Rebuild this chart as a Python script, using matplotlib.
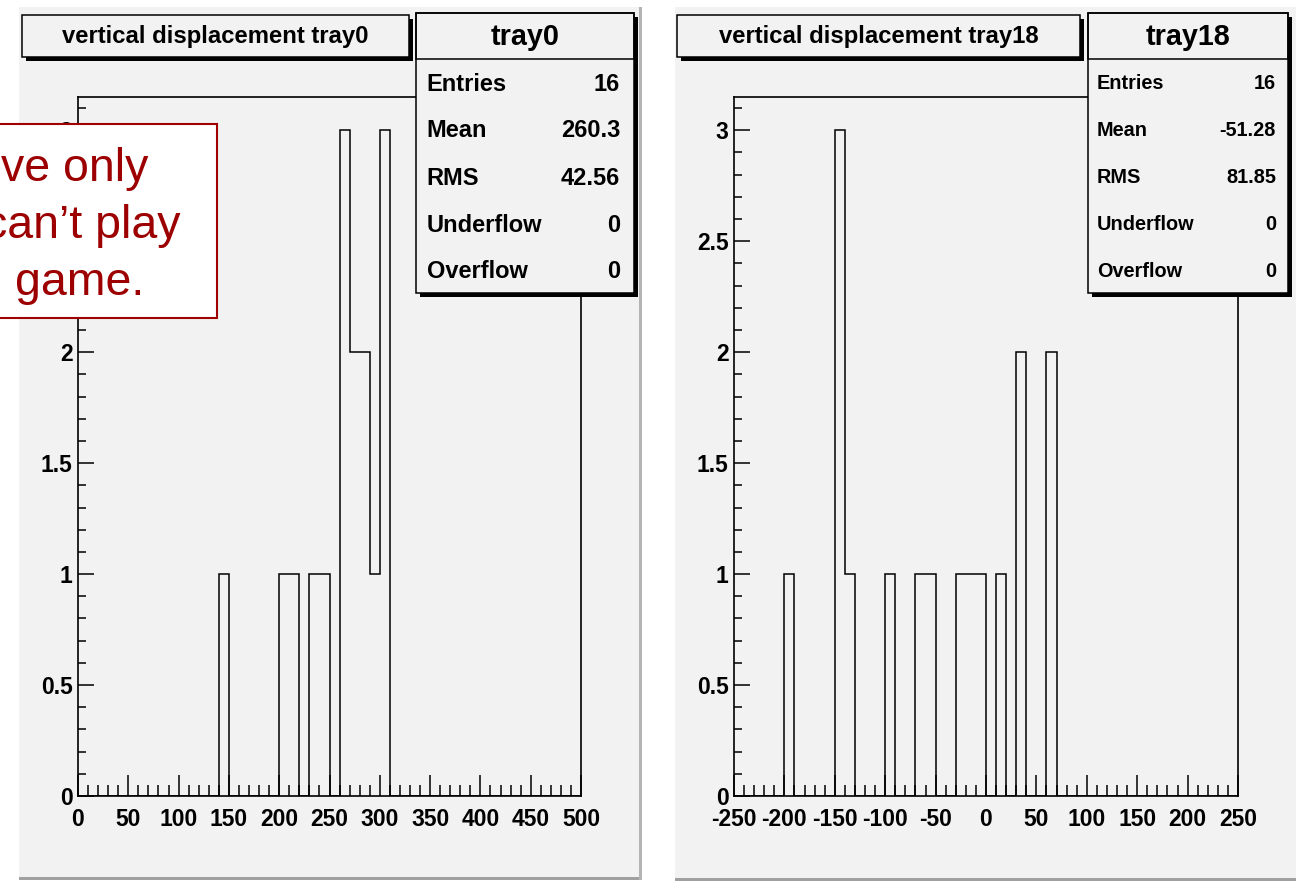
import numpy as np
import matplotlib
matplotlib.use("Agg")
import matplotlib.pyplot as plt
from matplotlib.patches import Rectangle
from matplotlib.transforms import Affine2D
from matplotlib.ticker import MultipleLocator, FuncFormatter

plt.rcParams['font.family'] = ['Liberation Sans', 'DejaVu Sans']
plt.rcParams['axes.unicode_minus'] = False

# --- data (bin low edge, entries) ---
tray0_lo = [140, 200, 210, 230, 240, 260, 270, 280, 290, 300]
tray0_cnt = [1, 1, 1, 1, 1, 3, 2, 2, 1, 3]
tray18_lo = [-200, -150, -140, -100, -70, -60, -30, -20, -10, 10, 30, 60]
tray18_cnt = [1, 3, 1, 1, 1, 1, 1, 1, 1, 1, 2, 2]
bin_width = 10
tray0_range = (0, 500)
tray18_range = (-250, 250)

stat_names = ["Entries", "Mean", "RMS", "Underflow", "Overflow"]
tray0_stats = ["16", "260.3", "42.56", "0", "0"]
tray18_stats = ["16", "-51.28", "81.85", "0", "0"]

overlay_lines = ["ve only", "can\u2019t play", "game."]

W, H = 1296, 886
fig = plt.figure(figsize=(W / 100, H / 100), dpi=100)
fig.patch.set_facecolor("white")
# pixel coords, origin top-left
pxt = Affine2D().scale(1 / W, -1 / H).translate(0, 1) + fig.transFigure

PAD = "#f2f2f2"


def rect(x0, y0, x1, y1, fc, ec="none", lw=0, z=1, **kw):
    r = Rectangle((x0, y0), x1 - x0, y1 - y0, facecolor=fc, edgecolor=ec,
                  linewidth=lw, transform=pxt, zorder=z, **kw)
    fig.patches.append(r)
    return r


def text(x, y, s, z=5, **kw):
    return fig.text(x, y, s, transform=pxt, zorder=z, **kw)


def hist_counts(lo, cnt, xr):
    edges = np.arange(xr[0], xr[1] + bin_width, bin_width)
    counts = np.zeros(len(edges) - 1)
    for l, c in zip(lo, cnt):
        counts[int((l - xr[0]) // bin_width)] = c
    return edges, counts


def panel(pad, frame, xr, lo, cnt, title, tbox, sbox, name, stats, sfs, lbl_x, val_x, bases):
    # pad background with raised border
    px0, py0, px1, py1 = pad
    rect(px0, py0, px1, py1, PAD, z=-3)
    rect(px0, py1 - 3, px1, py1, "#a0a0a0", z=-2)
    rect(px1 - 3, py0, px1, py1, "#b4b4b4", z=-2)
    rect(px0, py0, px0 + 2, py1, "white", z=-2)

    fx0, fy0, fx1, fy1 = frame
    ax = fig.add_axes([fx0 / W, 1 - fy1 / H, (fx1 - fx0) / W, (fy1 - fy0) / H])
    ax.set_facecolor("none")
    edges, counts = hist_counts(lo, cnt, xr)
    ax.stairs(counts, edges, color="black", linewidth=1.1, baseline=0)
    ax.set_xlim(*xr)
    ax.set_ylim(0, 3.15)
    for s in ax.spines.values():
        s.set_linewidth(1.2)
    ax.xaxis.set_major_locator(MultipleLocator(50))
    ax.xaxis.set_minor_locator(MultipleLocator(10))
    ax.yaxis.set_major_locator(MultipleLocator(0.5))
    ax.yaxis.set_minor_locator(MultipleLocator(0.1))
    fmt = FuncFormatter(lambda v, p: "%g" % v)
    ax.xaxis.set_major_formatter(fmt)
    ax.yaxis.set_major_formatter(fmt)
    ax.tick_params(axis="x", which="major", direction="in", length=15, width=1.1,
                   pad=9, labelsize=16.5, top=False)
    ax.tick_params(axis="x", which="minor", direction="in", length=8, width=1.1, top=False)
    ax.tick_params(axis="y", which="major", direction="in", length=11.5, width=1.1,
                   pad=4, labelsize=16.5, right=False)
    ax.tick_params(axis="y", which="minor", direction="in", length=5.4, width=1.1, right=False)
    for lab in ax.get_xticklabels() + ax.get_yticklabels():
        lab.set_fontweight("bold")

    # title box
    tx0, ty0, tx1, ty1 = tbox
    rect(tx0 + 4, ty0 + 4, tx1 + 4, ty1 + 4, "black", z=1)
    rect(tx0, ty0, tx1, ty1, PAD, "black", 1.1, z=1.5)
    text((tx0 + tx1) / 2, 43.3, title, ha="center", va="baseline",
         fontsize=17.2, fontweight="bold")

    # stats box
    sx0, sy0, sx1, sy1 = sbox
    rect(sx0 + 4, sy0 + 4, sx1 + 4, sy1 + 4, "black", z=1)
    rect(sx0, sy0, sx1, sy1, PAD, "black", 1.1, z=1.5)
    rect(sx0, sy0, sx1, 59, "none", "black", 1.1, z=1.6)
    text((sx0 + sx1) / 2, 45, name, ha="center", va="baseline",
         fontsize=20.7, fontweight="bold")
    for nm, v, b in zip(stat_names, stats, bases):
        text(lbl_x, b, nm, ha="left", va="baseline", fontsize=sfs, fontweight="bold")
        text(val_x, b, v, ha="right", va="baseline", fontsize=sfs, fontweight="bold")
    return ax


panel((17, 7, 642, 880), (78, 97, 581, 796), tray0_range, tray0_lo, tray0_cnt,
      "vertical displacement tray0", (22, 15, 409, 57), (416, 13, 634, 293),
      "tray0", tray0_stats, 17, 426.5, 620, [90.7, 137.3, 185, 231.7, 278.3])
panel((673, 7, 1299, 881), (734, 97, 1238, 796), tray18_range, tray18_lo, tray18_cnt,
      "vertical displacement tray18", (677, 15, 1080, 57), (1088, 13, 1288, 293),
      "tray18", tray18_stats, 14.3, 1097, 1276, [89.3, 136, 183.3, 230, 276.7])

# overlay note box (cut off at the left edge)
rect(-10, 124, 217, 318, "white", "#a00000", 1.5, z=20)
red = "#9c0000"
text(148, 180.7, overlay_lines[0], z=21, ha="right", va="baseline", fontsize=33.5, color=red)
text(180, 238, overlay_lines[1], z=21, ha="right", va="baseline", fontsize=33.5, color=red)
text(144, 295, overlay_lines[2], z=21, ha="right", va="baseline", fontsize=33.5, color=red)

fig.savefig("out.png", dpi=100, facecolor=fig.get_facecolor())
